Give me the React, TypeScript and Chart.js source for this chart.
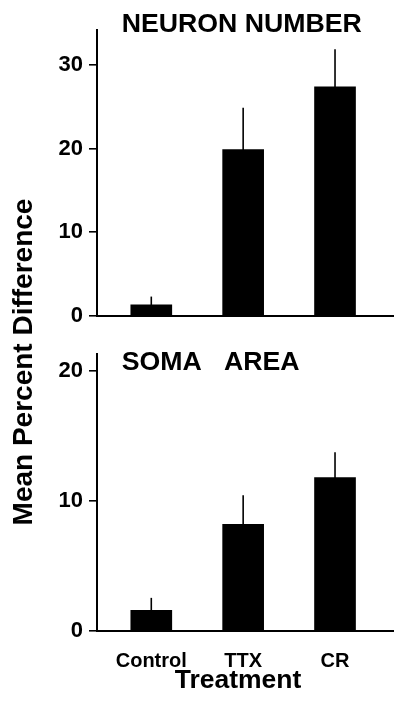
import React, { useEffect, useRef } from "react";
import { Chart, registerables } from "chart.js";

Chart.register(...registerables);

// ---- data ----
const categories = ["Control", "TTX", "CR"];
const neuronValues = [1.3, 19.9, 27.4];
const neuronErrors = [1.0, 5.0, 4.5];
const somaValues = [1.6, 8.2, 11.8];
const somaErrors = [0.95, 2.25, 1.95];
const neuronTicks = [0, 10, 20, 30];
const somaTicks = [0, 10, 20];
const neuronMax = 34.2;
const somaMax = 21.3;

const FAMILY = "'Liberation Sans', Arial, Helvetica, sans-serif";

const errorBarPlugin = {
  id: "errorBars",
  afterDatasetsDraw(chart: any) {
    const ds = chart.data.datasets[0];
    const errs: number[] = ds.errors;
    const meta = chart.getDatasetMeta(0);
    const y = chart.scales.y;
    const ctx = chart.ctx;
    ctx.save();
    ctx.strokeStyle = "#000";
    ctx.lineWidth = 1.6;
    meta.data.forEach((el: any, i: number) => {
      const v = ds.data[i].y;
      const top = y.getPixelForValue(v + errs[i]);
      ctx.beginPath();
      ctx.moveTo(el.x, el.y + 1);
      ctx.lineTo(el.x, top);
      ctx.stroke();
    });
    ctx.restore();
  },
};

type TextSpec = { text: string; dx: number; dy: number; ref: "top" | "bottom"; size: number; align: CanvasTextAlign };

function textPlugin(id: string, specs: TextSpec[]) {
  return {
    id,
    afterDraw(chart: any) {
      const { ctx, chartArea } = chart;
      ctx.save();
      ctx.fillStyle = "#000";
      ctx.textBaseline = "alphabetic";
      specs.forEach((s) => {
        ctx.font = `bold ${s.size}px ${FAMILY}`;
        ctx.textAlign = s.align;
        const y = (s.ref === "top" ? chartArea.top : chartArea.bottom) + s.dy;
        ctx.fillText(s.text, chartArea.left + s.dx, y);
      });
      ctx.restore();
    },
  };
}

function makeConfig(values: number[], errors: number[], yMax: number, yTicks: number[], showX: boolean, padTop: number, xHeight: number, plugins: any[]) {
  return {
    type: "bar" as const,
    data: {
      datasets: [
        {
          data: categories.map((_, i) => ({ x: i + 1, y: values[i] })),
          errors,
          backgroundColor: "#000",
          borderWidth: 0,
          barThickness: 41,
        },
      ],
    },
    options: {
      responsive: false,
      animation: false,
      layout: { padding: { top: padTop, left: 0, right: 0, bottom: 0 } },
      plugins: {
        legend: { display: false },
        tooltip: { enabled: false },
        title: { display: false },
      },
      scales: {
        x: {
          type: "linear",
          min: 0.409,
          max: 3.642,
          offset: false,
          afterBuildTicks: (s: any) => {
            s.ticks = categories.map((_, i) => ({ value: i + 1 }));
          },
          ticks: {
            display: showX,
            callback: (_v: any, i: number) => categories[i],
            font: { family: FAMILY, size: 20, weight: "bold" },
            color: "#000",
            padding: 18,
            maxRotation: 0,
            autoSkip: false,
          },
          grid: { display: false, drawTicks: false, offset: false },
          border: { display: true, color: "#000", width: 2 },
          afterFit: (s: any) => {
            s.height = xHeight;
          },
        },
        y: {
          min: 0,
          max: yMax,
          afterBuildTicks: (s: any) => {
            s.ticks = yTicks.map((v) => ({ value: v }));
          },
          ticks: {
            font: { family: FAMILY, size: 22, weight: "bold" },
            color: "#000",
            padding: 6,
          },
          grid: { drawOnChartArea: false, drawTicks: true, tickLength: 8, color: "#000", lineWidth: 1.6 },
          border: { display: true, color: "#000", width: 2 },
          afterFit: (s: any) => {
            s.width = 97;
          },
        },
      },
    },
    plugins: [errorBarPlugin, ...plugins],
  };
}

export default function App() {
  const topRef = useRef<HTMLCanvasElement>(null);
  const botRef = useRef<HTMLCanvasElement>(null);

  useEffect(() => {
    const top = new Chart(
      topRef.current!,
      makeConfig(neuronValues, neuronErrors, neuronMax, neuronTicks, false, 30, 19, [
        textPlugin("titleTop", [{ text: "NEURON NUMBER", dx: 24.7, dy: 2, ref: "top", size: 26.7, align: "left" }]),
      ]) as any
    );
    const bot = new Chart(
      botRef.current!,
      makeConfig(somaValues, somaErrors, somaMax, somaTicks, true, 13, 73, [
        textPlugin("titleBot", [
          { text: "SOMA   AREA", dx: 24.7, dy: 16, ref: "top", size: 26.7, align: "left" },
          { text: "Treatment", dx: 141, dy: 57, ref: "bottom", size: 26.5, align: "center" },
        ]),
      ]) as any
    );
    return () => {
      top.destroy();
      bot.destroy();
    };
  }, []);

  return (
    <div style={{ position: "absolute", left: 0, top: 0, width: 394, height: 704, background: "#fff", overflow: "hidden" }}>
      <canvas ref={topRef} width={394} height={335} style={{ position: "absolute", left: 0, top: 0, width: 394, height: 335 }} />
      <canvas ref={botRef} width={394} height={369} style={{ position: "absolute", left: 0, top: 335, width: 394, height: 369 }} />
      <div
        style={{
          position: "absolute",
          left: 23 - 200,
          top: 361.5 - 16,
          width: 400,
          height: 32,
          lineHeight: "32px",
          textAlign: "center",
          fontFamily: FAMILY,
          fontWeight: "bold",
          fontSize: 28,
          color: "#000",
          whiteSpace: "nowrap",
          transform: "rotate(-90deg)",
          transformOrigin: "50% 50%",
        }}
      >
        Mean Percent Difference
      </div>
    </div>
  );
}
